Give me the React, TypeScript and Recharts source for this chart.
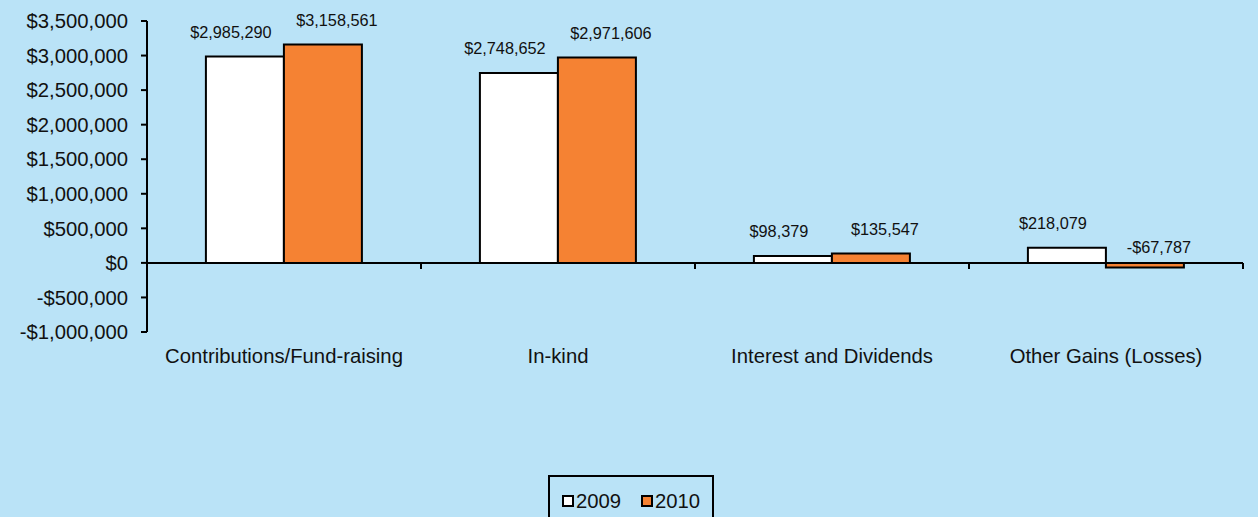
import { BarChart, Bar, XAxis, YAxis, ReferenceLine, LabelList } from "recharts";

const categories = [
  "Contributions/Fund-raising",
  "In-kind",
  "Interest and Dividends",
  "Other Gains (Losses)",
];
const values2009 = [2985290, 2748652, 98379, 218079];
const values2010 = [3158561, 2971606, 135547, -67787];
const yTicks = [-1000000, -500000, 0, 500000, 1000000, 1500000, 2000000, 2500000, 3000000, 3500000];

const series = [
  { key: "y2009", name: "2009", color: "#FFFFFF", nudge: -14 },
  { key: "y2010", name: "2010", color: "#F58233", nudge: 14 },
];

const data = categories.map((name, i) => ({
  name,
  y2009: values2009[i],
  y2010: values2010[i],
}));

const BG = "#BAE3F7";
const FONT = "'Liberation Sans', Arial, sans-serif";

const money = (v: number) =>
  (v < 0 ? "-$" : "$") + Math.abs(v).toLocaleString("en-US");

function BarLabel(props: any) {
  const { x, y, width, height, value, nudge } = props;
  const top = Math.min(y, y + height);
  const off = value < 0 ? 14 : 23;
  return (
    <text
      x={x + width / 2 + nudge}
      y={top - off}
      textAnchor="middle"
      dominantBaseline="middle"
      fontSize={16.3}
      fontFamily={FONT}
      fill="#111"
    >
      {money(value)}
    </text>
  );
}

function ZeroAxis(props: any) {
  const { x1, y1, x2 } = props;
  const n = categories.length;
  const step = (x2 - x1) / n;
  return (
    <g>
      <line x1={x1} y1={y1} x2={x2} y2={y1} stroke="#000" strokeWidth={2} />
      {Array.from({ length: n + 1 }, (_, i) => (
        <line
          key={i}
          x1={x1 + i * step}
          y1={y1}
          x2={x1 + i * step}
          y2={y1 + 6}
          stroke="#000"
          strokeWidth={2}
        />
      ))}
    </g>
  );
}

export default function App() {
  return (
    <div
      style={{
        position: "absolute",
        left: 0,
        top: 0,
        width: 1258,
        height: 517,
        background: BG,
        overflow: "hidden",
        fontFamily: FONT,
      }}
    >
      <BarChart
        width={1258}
        height={517}
        data={data}
        margin={{ top: 21, right: 15, bottom: 0, left: 0 }}
        barCategoryGap="21.5%"
        barGap={0}
      >
        <XAxis
          dataKey="name"
          height={185}
          axisLine={false}
          tickLine={false}
          tickMargin={11}
          tick={{ fill: "#111", fontSize: 20.3, fontFamily: FONT }}
          interval={0}
        />
        <YAxis
          width={147}
          domain={[-1000000, 3500000]}
          ticks={yTicks}
          interval={0}
          tickFormatter={money}
          axisLine={{ stroke: "#000", strokeWidth: 2 }}
          tickLine={{ stroke: "#000", strokeWidth: 2 }}
          tickSize={6}
          tickMargin={13}
          tick={{ fill: "#111", fontSize: 20.3, fontFamily: FONT }}
        />
        {series.map((s) => (
          <Bar
            key={s.key}
            dataKey={s.key}
            name={s.name}
            fill={s.color}
            stroke="#000"
            strokeWidth={2}
            isAnimationActive={false}
          >
            <LabelList dataKey={s.key} content={<BarLabel nudge={s.nudge} />} />
          </Bar>
        ))}
        <ReferenceLine y={0} shape={<ZeroAxis />} />
      </BarChart>
      <div
        style={{
          position: "absolute",
          left: 548,
          top: 475,
          width: 166,
          height: 60,
          border: "2px solid #000",
          display: "flex",
          justifyContent: "center",
          paddingTop: 12,
          boxSizing: "border-box",
          gap: 20,
          fontSize: 20.3,
          color: "#111",
        }}
      >
        {series.map((s) => (
          <div key={s.key} style={{ display: "flex", alignItems: "center", height: 24 }}>
            <span
              style={{
                display: "inline-block",
                width: 8,
                height: 8,
                border: "2px solid #000",
                background: s.color,
                marginRight: 2,
              }}
            />
            <span>{s.name}</span>
          </div>
        ))}
      </div>
    </div>
  );
}
